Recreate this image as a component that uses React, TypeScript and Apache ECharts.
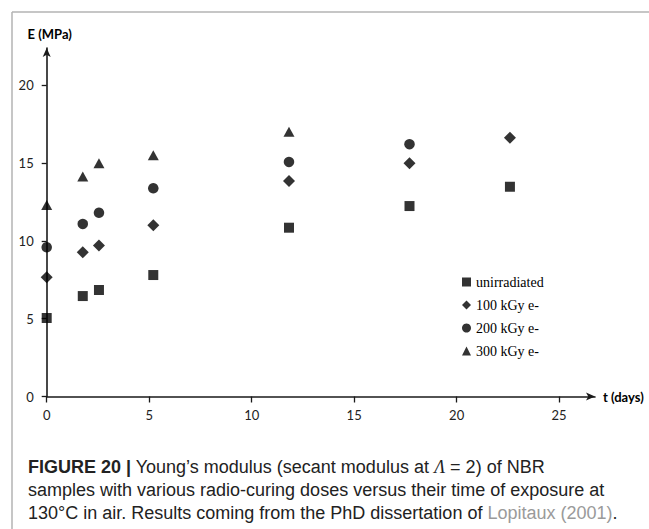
import React, { useEffect, useRef } from "react";
import * as echarts from "echarts";

const seriesNames = ["unirradiated", "100 kGy e-", "200 kGy e-", "300 kGy e-"];
const seriesSymbols = ["rect", "diamond", "circle", "triangle"];
const exposureDays = [0, 1.76, 2.55, 5.2, 11.82, 17.7, 22.6];
const unirradiatedE = [5.04, 6.45, 6.84, 7.8, 10.84, 12.23, 13.47];
const kGy100E = [7.66, 9.26, 9.69, 11.0, 13.84, 14.98, 16.62];
const kGy200E = [9.58, 11.08, 11.8, 13.37, 15.06, 16.2];
const kGy300E = [12.3, 14.12, 14.98, 15.5, 17.0];
const xTicks = [0, 5, 10, 15, 20, 25];
const yTicks = [0, 5, 10, 15, 20];

const allValues = [unirradiatedE, kGy100E, kGy200E, kGy300E];

const tickFont = "Lato, 'Open Sans', sans-serif";
const capFont = "'Liberation Sans', Arial, sans-serif";

export default function App() {
  const ref = useRef<HTMLDivElement>(null);
  useEffect(() => {
    if (!ref.current) return;
    const chart = echarts.init(ref.current, null, { renderer: "svg" });
    const series = allValues.map((vals, i) => ({
      name: seriesNames[i],
      type: "scatter",
      symbol: seriesSymbols[i],
      symbolSize: i === 0 ? 10 : i === 1 ? 12 : i === 2 ? 10.5 : [11, 10],
      itemStyle: { color: "#000" },
      data: vals.map((v, j) => [exposureDays[j], v]),
    }));
    chart.setOption({
      animation: false,
      backgroundColor: "#fff",
      grid: { left: 46.7, top: 48, right: 54, bottom: 132.5, containLabel: false },
      legend: {
        orient: "vertical",
        left: 457,
        top: 269,
        itemWidth: 9,
        itemHeight: 9,
        itemGap: 7,
        textStyle: {
          fontFamily: "'Liberation Serif', serif",
          fontSize: 14,
          color: "#000",
          lineHeight: 16,
        },
        data: seriesNames.map((n, i) => ({ name: n, icon: seriesSymbols[i] })),
      },
      xAxis: {
        type: "value",
        min: 0,
        max: 26.75,
        interval: 5,
        name: "t (days)",
        nameLocation: "end",
        nameGap: 8,
        nameTextStyle: {
          fontFamily: tickFont,
          fontWeight: "bold",
          fontSize: 13,
          color: "#000",
          verticalAlign: "middle",
        },
        splitLine: { show: false },
        axisLine: {
          show: true,
          onZero: false,
          symbol: ["none", "arrow"],
          symbolSize: [6, 9],
          lineStyle: { color: "#1a1a1a", width: 1.6 },
        },
        axisTick: {
          show: true,
          length: 6,
          customValues: xTicks,
          lineStyle: { color: "#1a1a1a", width: 1.3 },
        },
        axisLabel: {
          customValues: xTicks,
          margin: 12,
          fontFamily: tickFont,
          fontSize: 13,
          color: "#222",
        },
      },
      yAxis: {
        type: "value",
        min: 0,
        max: 22.38,
        interval: 5,
        name: "E (MPa)",
        nameLocation: "end",
        nameGap: 8,
        nameTextStyle: {
          fontFamily: tickFont,
          fontWeight: "bold",
          fontSize: 13,
          color: "#000",
          align: "center",
          verticalAlign: "bottom",
          padding: [0, 0, 0, 6],
        },
        splitLine: { show: false },
        axisLine: {
          show: true,
          onZero: false,
          symbol: ["none", "arrow"],
          symbolSize: [6, 9],
          lineStyle: { color: "#1a1a1a", width: 1.6 },
        },
        axisTick: {
          show: true,
          length: 5,
          customValues: yTicks,
          lineStyle: { color: "#1a1a1a", width: 1.3 },
        },
        axisLabel: {
          customValues: yTicks,
          margin: 13,
          fontFamily: tickFont,
          fontSize: 13,
          color: "#222",
        },
      },
      graphic: [
        {
          type: "line",
          shape: { x1: 12, y1: 12, x2: 649, y2: 12 },
          style: { stroke: "#b3b3b3", lineWidth: 1.5 },
          silent: true,
        },
        {
          type: "line",
          shape: { x1: 12, y1: 12, x2: 12, y2: 529 },
          style: { stroke: "#b3b3b3", lineWidth: 1.5 },
          silent: true,
        },
        {
          type: "text",
          left: 28,
          top: 455,
          silent: true,
          style: {
            text:
              "{b|FIGURE 20 |} Young’s modulus (secant modulus at {i|Λ} = 2) of NBR\n" +
              "samples with various radio-curing doses versus their time of exposure at\n" +
              "130°C in air. Results coming from the PhD dissertation of {g|Lopitaux (2001)}.",
            fontFamily: capFont,
            fontSize: 18,
            lineHeight: 23,
            fill: "#222",
            rich: {
              b: { fontWeight: "bold", fontFamily: capFont, fontSize: 18, lineHeight: 23, fill: "#222" },
              i: { fontStyle: "italic", fontFamily: "'Liberation Serif', serif", fontSize: 18, lineHeight: 23, fill: "#222" },
              g: { fontFamily: capFont, fontSize: 18, lineHeight: 23, fill: "#9a9a9a" },
            },
          },
        },
      ],
      series,
    });
    return () => chart.dispose();
  }, []);
  return (
    <div
      ref={ref}
      style={{ position: "absolute", left: 0, top: 0, width: 649, height: 529 }}
    />
  );
}
